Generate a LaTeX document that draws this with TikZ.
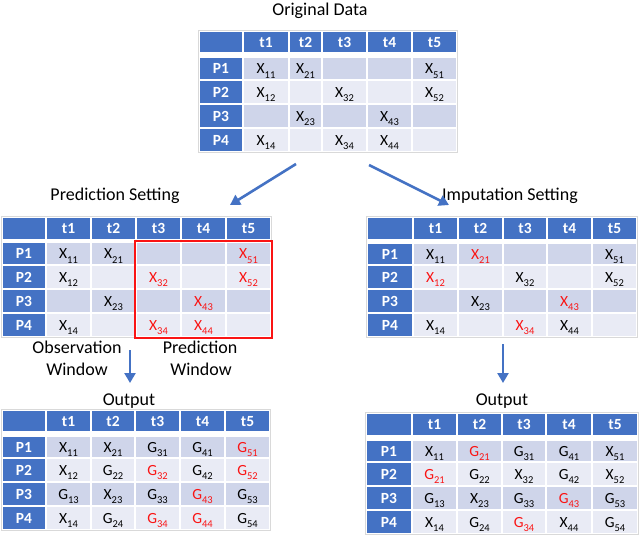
\documentclass[tikz,border=0pt]{standalone}
\usepackage{fontspec}
\setmainfont{Carlito}
\usetikzlibrary{arrows.meta}
\definecolor{hblue}{RGB}{68,114,196}
\definecolor{rowA}{RGB}{207,213,234}
\definecolor{rowB}{RGB}{233,235,245}
\definecolor{tred}{RGB}{250,20,20}
\definecolor{arrblue}{RGB}{68,114,196}
\newcommand\sbs[1]{\raisebox{-0.3em}{\fontsize{10.5}{10.5}\selectfont #1}}
\newcommand\vx[1]{X\sbs{#1}}
\newcommand\vg[1]{G\sbs{#1}}
\newcommand\rvx[1]{\textcolor{tred}{X\sbs{#1}}}
\newcommand\rvg[1]{\textcolor{tred}{G\sbs{#1}}}
\tikzset{
  cellbase/.style={rectangle, draw=white, line width=1.5pt, inner sep=0pt, text height=10pt, text depth=0pt},
  hd/.style={cellbase, fill=hblue, text=white, font=\bfseries\fontsize{15.5}{15.5}\selectfont},
  oddrow/.style={cellbase, fill=rowA, text=black, font=\fontsize{15.5}{15.5}\selectfont},
  evenrow/.style={cellbase, fill=rowB, text=black, font=\fontsize{15.5}{15.5}\selectfont},
  title/.style={font=\fontsize{18}{18}\selectfont, anchor=base, inner sep=0pt},
  flow/.style={draw=arrblue, line width=2.6pt, -{Triangle[length=10pt,width=11pt]}},
  redbox/.style={draw=tred, line width=1.6pt},
  tframe/.style={draw=black!15, line width=0.6pt},
}
\newcommand\datatable[4]{%
  \foreach \cont [count=\ii from 0] in {#4}{%
    \pgfmathtruncatemacro\rr{int(\ii/6)}%
    \pgfmathtruncatemacro\cc{\ii-6*\rr}%
    \pgfmathtruncatemacro\ra{\rr==0 ? 0 : \rr+1}%
    \pgfmathsetmacro\xa{{#2}[\cc]}%
    \pgfmathsetmacro\xb{{#2}[\cc+1]}%
    \pgfmathsetmacro\ya{{#3}[\ra]}%
    \pgfmathsetmacro\yb{{#3}[\ra+1]}%
    \ifnum\rr=0 \tikzset{cur/.style={hd}}\else
      \ifnum\cc=0 \tikzset{cur/.style={hd}}\else
        \ifodd\rr\relax \tikzset{cur/.style={oddrow}}\else \tikzset{cur/.style={evenrow}}\fi
      \fi
    \fi
    \node[cur, minimum width={(\xb-\xa)*1pt}, minimum height={(\yb-\ya)*1pt}] (#1-\rr-\cc) at ({(\xa+\xb)/2},{(\ya+\yb)/2}) {\cont};
  }%
  \draw[tframe] (#1-0-0.north west) rectangle (#1-4-5.south east);
}
\begin{document}
\begin{tikzpicture}[x=1pt,y=-1pt]
\useasboundingbox[fill=white] (0,0) rectangle (640,538);

% Original data
\datatable{orig}{199,243,289,322,367,412,457}{31,53,57,80,104,128,152}{%
{},t1,t2,t3,t4,t5,
P1,\vx{11},\vx{21},{},{},\vx{51},
P2,\vx{12},{},\vx{32},{},\vx{52},
P3,{},\vx{23},{},\vx{43},{},
P4,\vx{14},{},\vx{34},\vx{44},{}}

% Prediction setting
\datatable{pred}{2,46,91,136,181,226,271}{217,240,242,265,289,313,337}{%
{},t1,t2,t3,t4,t5,
P1,\vx{11},\vx{21},{},{},\rvx{51},
P2,\vx{12},{},\rvx{32},{},\rvx{52},
P3,{},\vx{23},{},\rvx{43},{},
P4,\vx{14},{},\rvx{34},\rvx{44},{}}
\draw[redbox] (pred-1-3.north west) rectangle (pred-4-5.south east);

% Imputation setting
\datatable{imp}{367,413,458,503,547,592,637}{217,240,243,265,289,313,337}{%
{},t1,t2,t3,t4,t5,
P1,\vx{11},\rvx{21},{},{},\vx{51},
P2,\rvx{12},{},\vx{32},{},\vx{52},
P3,{},\vx{23},{},\rvx{43},{},
P4,\vx{14},{},\rvx{34},\vx{44},{}}

% Output left
\datatable{outl}{2,46,91,135,180,225,270}{410,432,436,458,482,506,530}{%
{},t1,t2,t3,t4,t5,
P1,\vx{11},\vx{21},\vg{31},\vg{41},\rvg{51},
P2,\vx{12},\vg{22},\rvg{32},\vg{42},\rvg{52},
P3,\vg{13},\vx{23},\vg{33},\rvg{43},\vg{53},
P4,\vx{14},\vg{24},\rvg{34},\rvg{44},\vg{54}}

% Output right
\datatable{outr}{366,412,457,502,546,592,638}{413,436,440,462,486,510,534}{%
{},t1,t2,t3,t4,t5,
P1,\vx{11},\rvg{21},\vg{31},\vg{41},\vx{51},
P2,\rvg{21},\vg{22},\vx{32},\vg{42},\vx{52},
P3,\vg{13},\vx{23},\vg{33},\rvg{43},\vg{53},
P4,\vx{14},\vg{24},\rvg{34},\vx{44},\vg{54}}

% Titles
\node[title] (torig) at (320,15.5) {Original Data};
\node[title] (tpred) at (115,200.5) {Prediction Setting};
\node[title] (timp) at (510,200.5) {Imputation Setting};
\node[title] (obs1) at (77,353) {Observation};
\node[title] (obs2) at (77,375) {Window};
\node[title] (pw1) at (200,353) {Prediction};
\node[title] (pw2) at (201,375) {Window};
\node[title] (toutl) at (129,405) {Output};
\node[title] (toutr) at (502,405) {Output};

% Arrows
\coordinate (a1s) at (296,164);
\coordinate (a1e) at (230,205);
\coordinate (a2s) at (369,165);
\coordinate (a2e) at (449,205);
\coordinate (a3s) at (130,350);
\coordinate (a3e) at (130,383);
\coordinate (a4s) at (503,344);
\coordinate (a4e) at (503,383);
\draw[flow] (a1s) -- (a1e);
\draw[flow] (a2s) -- (a2e);
\draw[flow] (a3s) -- (a3e);
\draw[flow] (a4s) -- (a4e);
\end{tikzpicture}
\end{document}
